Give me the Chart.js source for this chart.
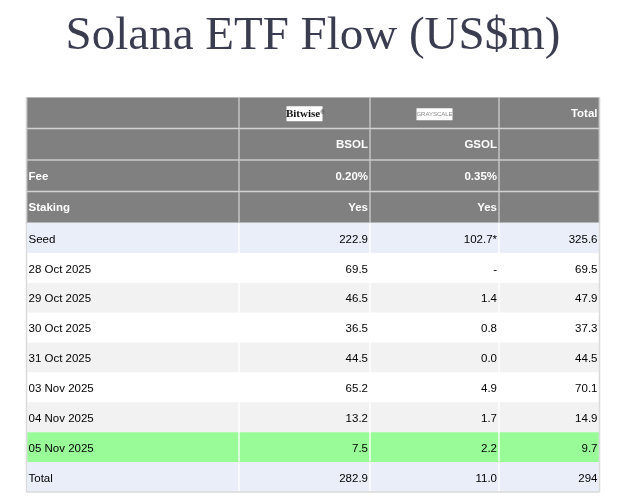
<!DOCTYPE html>
<html>
<head>
<meta charset="utf-8">
<title>Solana ETF Flow</title>
<script src="https://cdn.jsdelivr.net/npm/chart.js"></script>
<style>
  html, body { margin: 0; padding: 0; background: #ffffff; }
  #wrap { position: relative; width: 634px; height: 502px; overflow: hidden; }
  canvas { position: absolute; left: 0; }
  #headChart { top: 0; }
  #bodyChart { top: 223px; }
</style>
</head>
<body>
<div id="wrap">
  <canvas id="headChart" width="634" height="223"></canvas>
  <canvas id="bodyChart" width="634" height="279"></canvas>
</div>
<script>
// --- données du tableau ---
const issuers = ['Bitwise', 'GRAYSCALE'];
const tickers = ['BSOL', 'GSOL'];
const fees = ['0.20%', '0.35%'];
const staking = ['Yes', 'Yes'];

const rowLabels = ['Seed', '28 Oct 2025', '29 Oct 2025', '30 Oct 2025', '31 Oct 2025',
                   '03 Nov 2025', '04 Nov 2025', '05 Nov 2025', 'Total'];
const bsolFlows = [222.9, 69.5, 46.5, 36.5, 44.5, 65.2, 13.2, 7.5, 282.9];
const gsolFlows = [102.7, null, 1.4, 0.8, 0.0, 4.9, 1.7, 2.2, 11.0];
const totalFlows = [325.6, 69.5, 47.9, 37.3, 44.5, 70.1, 14.9, 9.7, 294];
const seedNote = '*'; // GSOL seed marqué d'un astérisque

// --- mise en page (largeurs des colonnes, en px depuis le bord gauche du tableau) ---
const colEdges = [0, 212.5, 343.5, 472.5, 573];
const FONT = '"Liberation Sans", Arial, sans-serif';
const headFill = '#808080';
const rowFills = ['#e9eef9', '#ffffff', '#f2f2f2', '#ffffff', '#f2f2f2',
                  '#ffffff', '#f2f2f2', '#98fb98', '#e9eef9'];

function fmt(v) {
    return v === null ? '-' : v.toFixed(1);
}

// textes des cellules d'en-tête
const headRows = [
    ['', '', '', 'Total'],
    ['', tickers[0], tickers[1], ''],
    ['Fee', fees[0], fees[1], ''],
    ['Staking', staking[0], staking[1], '']
];

// textes des cellules du corps
const bodyRows = rowLabels.map((label, i) => [
    label,
    fmt(bsolFlows[i]),
    fmt(gsolFlows[i]) + (i === 0 ? seedNote : ''),
    i === rowLabels.length - 1 ? String(Math.round(totalFlows[i])) : fmt(totalFlows[i])
]);

// une série par colonne, chaque barre flottante = une cellule
function columnDatasets(nRows, fillFor, border) {
    const sets = [];
    for (let c = 0; c < colEdges.length - 1; c++) {
        const data = [];
        const colors = [];
        for (let r = 0; r < nRows; r++) {
            data.push([colEdges[c], colEdges[c + 1]]);
            colors.push(fillFor(r));
        }
        sets.push({
            data: data,
            backgroundColor: colors,
            borderColor: border.color,
            borderWidth: border.width,
            borderSkipped: false,
            grouped: false,
            barPercentage: 1,
            categoryPercentage: 1
        });
    }
    return sets;
}

// logos des émetteurs (petits cartouches blancs)
function drawLogo(ctx, idx, cx, cy) {
    const name = issuers[idx];
    ctx.fillStyle = '#ffffff';
    ctx.textBaseline = 'middle';
    if (idx === 0) {
        ctx.fillRect(cx - 18, cy - 6.5, 36, 15);
        ctx.fillStyle = '#111111';
        ctx.font = 'bold 11px "Liberation Serif", serif';
        const w = ctx.measureText(name).width;
        ctx.textAlign = 'left';
        ctx.fillText(name, cx - w / 2 - 1.5, cy + 1.5);
        ctx.font = '5px "Liberation Sans", sans-serif';
        ctx.fillText('\u00ae', cx + w / 2 - 1, cy - 0.5);
    } else {
        ctx.fillRect(cx - 18, cy - 4.5, 36, 12);
        ctx.fillStyle = '#8a8a8a';
        ctx.font = '6px "Liberation Sans", sans-serif';
        ctx.textAlign = 'center';
        ctx.fillText(name, cx, cy + 1.5);
    }
}

// plugin : texte des cellules + cadre du tableau
const cellText = {
    id: 'cellText',
    afterDatasetsDraw(chart, args, opts) {
        const ctx = chart.ctx;
        chart.data.datasets.forEach((ds, c) => {
            const meta = chart.getDatasetMeta(c);
            meta.data.forEach((bar, r) => {
                const left = Math.min(bar.x, bar.base);
                const right = Math.max(bar.x, bar.base);
                const txt = opts.rows[r][c];
                ctx.save();
                if (opts.logoRow === r && c >= 1 && c <= issuers.length) {
                    drawLogo(ctx, c - 1, (left + right) / 2, bar.y);
                }
                if (txt) {
                    ctx.font = opts.font;
                    ctx.fillStyle = opts.color;
                    ctx.textBaseline = 'middle';
                    if (c === 0) {
                        ctx.textAlign = 'left';
                        ctx.fillText(txt, left + 2, bar.y + opts.dy);
                    } else {
                        ctx.textAlign = 'right';
                        ctx.fillText(txt, right - 2, bar.y + opts.dy);
                    }
                }
                ctx.restore();
            });
        });
        // cadre extérieur
        const a = chart.chartArea;
        ctx.save();
        ctx.strokeStyle = opts.frame;
        ctx.lineWidth = 1.5;
        ctx.beginPath();
        ctx.moveTo(a.left, a.top);
        ctx.lineTo(a.left, a.bottom);
        ctx.moveTo(a.right, a.top);
        ctx.lineTo(a.right, a.bottom);
        if (opts.bottomEdge) {
            ctx.moveTo(a.left, a.bottom);
            ctx.lineTo(a.right, a.bottom);
        }
        ctx.stroke();
        ctx.restore();
    }
};

function commonScales() {
    return {
        x: { type: 'linear', min: colEdges[0], max: colEdges[colEdges.length - 1], display: false },
        y: { type: 'category', display: false }
    };
}

// en-tête + titre
new Chart(document.getElementById('headChart'), {
    type: 'bar',
    data: {
        labels: headRows.map((r, i) => 'h' + i),
        datasets: columnDatasets(headRows.length, () => headFill, { color: '#c9c9c9', width: 1 })
    },
    options: {
        indexAxis: 'y',
        responsive: false,
        animation: false,
        layout: { padding: { top: 8, left: 26.5, right: 34.5, bottom: 0 } },
        scales: commonScales(),
        plugins: {
            legend: { display: false },
            tooltip: { enabled: false },
            title: {
                display: true,
                text: 'Solana ETF Flow (US$m)',
                color: '#3a3c4f',
                font: { family: '"Liberation Serif", "Times New Roman", serif', size: 47, weight: 'normal', lineHeight: 1.2 },
                padding: { top: 0, bottom: 32.6 }
            },
            cellText: {
                rows: headRows,
                logoRow: 0,
                font: 'bold 11.5px ' + FONT,
                color: '#ffffff',
                frame: '#cfcfcf',
                bottomEdge: false,
                dy: 1
            }
        }
    },
    plugins: [cellText]
});

// corps du tableau
new Chart(document.getElementById('bodyChart'), {
    type: 'bar',
    data: {
        labels: rowLabels,
        datasets: columnDatasets(rowLabels.length, r => rowFills[r],
            { color: 'rgba(255,255,255,0.15)', width: { left: 1, right: 1, top: 0, bottom: 0 } })
    },
    options: {
        indexAxis: 'y',
        responsive: false,
        animation: false,
        layout: { padding: { top: 0, left: 26.5, right: 34.5, bottom: 10 } },
        scales: commonScales(),
        plugins: {
            legend: { display: false },
            tooltip: { enabled: false },
            cellText: {
                rows: bodyRows,
                logoRow: -1,
                font: '11.5px ' + FONT,
                color: '#000000',
                frame: '#dadada',
                bottomEdge: true,
                dy: 1.5
            }
        }
    },
    plugins: [cellText]
});
</script>
</body>
</html>
